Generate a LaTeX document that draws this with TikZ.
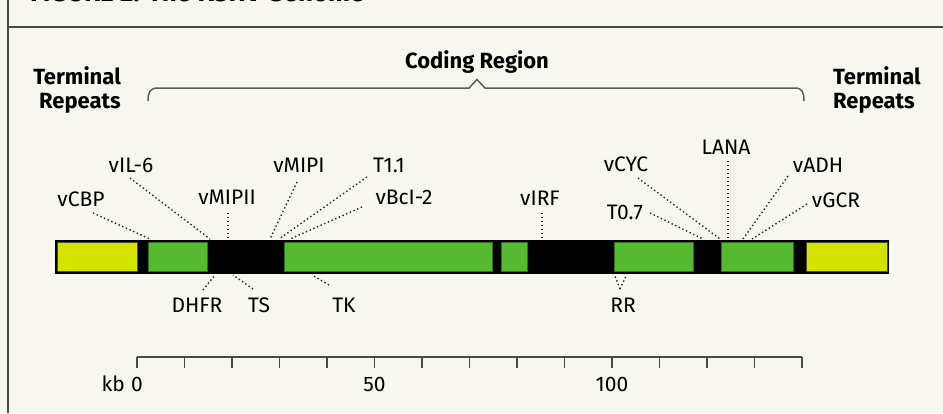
\documentclass[tikz,border=0pt]{standalone}
\usepackage{fontspec}
\setmainfont{Fira Sans}
\definecolor{paper}{HTML}{F7F7EF}
\definecolor{framegray}{HTML}{4A4A44}
\definecolor{genegreen}{HTML}{55BA2F}
\definecolor{geneedge}{HTML}{2F6F20}
\definecolor{repeatyellow}{HTML}{D5E300}
\definecolor{repeatedge}{HTML}{4A4A30}
\tikzset{
  gene/.style={font=\fontsize{21}{24}\selectfont, inner sep=0pt, anchor=base},
  heading/.style={font=\fontsize{22}{24}\selectfont\bfseries, inner sep=0pt},
  scalelabel/.style={font=\fontsize{21}{24}\selectfont, inner sep=0pt, anchor=base},
  lead/.style={line width=1.4pt, dash pattern=on 1.4pt off 2.6pt, black!85},
  coding/.style={fill=genegreen, draw=geneedge, line width=0.8pt},
  terminal/.style={fill=repeatyellow, draw=repeatedge, line width=0.8pt},
  rulestroke/.style={line width=1.4pt, draw=framegray},
  bracestroke/.style={line width=1.5pt, draw=framegray!90},
}
\begin{document}
\begin{tikzpicture}[x=1pt, y=-1pt]
\useasboundingbox (0,0) rectangle (943,413);
\fill[paper] (0,0) rectangle (943,413);

% header strip (title runs off the top edge) and frame
\node[font=\fontsize{26}{28}\selectfont\bfseries, inner sep=0pt, anchor=base west] (title) at (30,1.2) {FIGURE 2. The KSHV Genome};
\draw[rulestroke] (8,27) -- (943,27);
\draw[rulestroke] (8,0) -- (8,413);

% region headings
\node[heading, align=right, anchor=east] (trleft) at (121,90) {Terminal\\Repeats};
\node[heading, align=left, anchor=west] (trright) at (833,90) {Terminal\\Repeats};
\node[heading, anchor=base] (coding) at (477,68) {Coding Region};
\draw[bracestroke] (148,101) .. controls (148,92) and (150,88) .. (158,88)
  -- (469,88) -- (477,79.5) -- (485,88) -- (795,88)
  .. controls (802,88) and (804,92) .. (804,101);

% genome bar
\fill[black] (55,240) rectangle (889,274);
\path[terminal] (57,242.5) rectangle (137,271.5);
\path[coding] (148,242.5) rectangle (207,271.5);
\path[coding] (284,242.5) rectangle (492,271.5);
\path[coding] (501,242.5) rectangle (527,271.5);
\path[coding] (614,242.5) rectangle (693,271.5);
\path[coding] (721,242.5) rectangle (793,271.5);
\path[terminal] (806,242.5) rectangle (887,271.5);

% gene labels above the bar
\node[gene] (vCBP)  at (81,206)  {vCBP};
\node[gene] (vIL6)  at (131,172) {vIL-6};
\node[gene] (vMIPII) at (227,204) {vMIPII};
\node[gene] (vMIPI) at (299,172) {vMIPI};
\node[gene] (T11)   at (389,172) {T1.1};
\node[gene] (vBcl2) at (404,204) {vBcI-2};
\node[gene] (vIRF)  at (540,205) {vIRF};
\node[gene] (vCYC)  at (626,171) {vCYC};
\node[gene] (T07)   at (625,219) {T0.7};
\node[gene] (LANA)  at (726,154) {LANA};
\node[gene] (vADH)  at (818,172) {vADH};
\node[gene] (vGCR)  at (836,207) {vGCR};

% gene labels below the bar
\node[gene] (DHFR) at (197,312) {DHFR};
\node[gene] (TS)   at (259,312) {TS};
\node[gene] (TK)   at (344,312) {TK};
\node[gene] (RR)   at (623,312) {RR};

% leader end points
\coordinate (vCBP-s) at (93,213);   \coordinate (vCBP-e) at (150,239);
\coordinate (vIL6-s) at (130,178);  \coordinate (vIL6-e) at (210,239);
\coordinate (vMIPII-s) at (228,213); \coordinate (vMIPII-e) at (228,239);
\coordinate (vMIPI-s) at (297,182); \coordinate (vMIPI-e) at (270,239);
\coordinate (T11-s) at (367,177);   \coordinate (T11-e) at (279,239);
\coordinate (vBcl2-s) at (362,207); \coordinate (vBcl2-e) at (290,239);
\coordinate (vIRF-s) at (542,213);  \coordinate (vIRF-e) at (542,239);
\coordinate (vCYC-s) at (638,178);  \coordinate (vCYC-e) at (720,239);
\coordinate (T07-s) at (650,213);   \coordinate (T07-e) at (703,239);
\coordinate (LANA-s) at (728,161);  \coordinate (LANA-e) at (728,239);
\coordinate (vADH-s) at (788,176);  \coordinate (vADH-e) at (743,239);
\coordinate (vGCR-s) at (807,204);  \coordinate (vGCR-e) at (752,239);
\coordinate (DHFR-s) at (203,290);  \coordinate (DHFR-e) at (215,275);
\coordinate (TS-s) at (253,289);    \coordinate (TS-e) at (233,275);
\coordinate (TK-s) at (329,285);    \coordinate (TK-e) at (312,275);
\coordinate (RR-s) at (620,289);    \coordinate (RR-a) at (615,276); \coordinate (RR-b) at (626,276);

\foreach \g in {vCBP,vIL6,vMIPII,vMIPI,T11,vBcl2,vIRF,vCYC,T07,LANA,vADH,vGCR,DHFR,TS,TK}
  \draw[lead] (\g-s) -- (\g-e);
\draw[lead] (RR-s) -- (RR-a);
\draw[lead] (RR-s) -- (RR-b);

% kilobase scale
\draw[rulestroke] (137,357) -- (802,357);
\foreach \k in {0,10,...,140}
  \draw[rulestroke] ({137+4.75*\k},357) -- ({137+4.75*\k},368);
\node[scalelabel] (s0)   at (137,391) {0};
\node[scalelabel, anchor=base east] (kb) at (125,391) {kb};
\node[scalelabel] (s50)  at (374.5,391) {50};
\node[scalelabel] (s100) at (612,391) {100};
\end{tikzpicture}
\end{document}
